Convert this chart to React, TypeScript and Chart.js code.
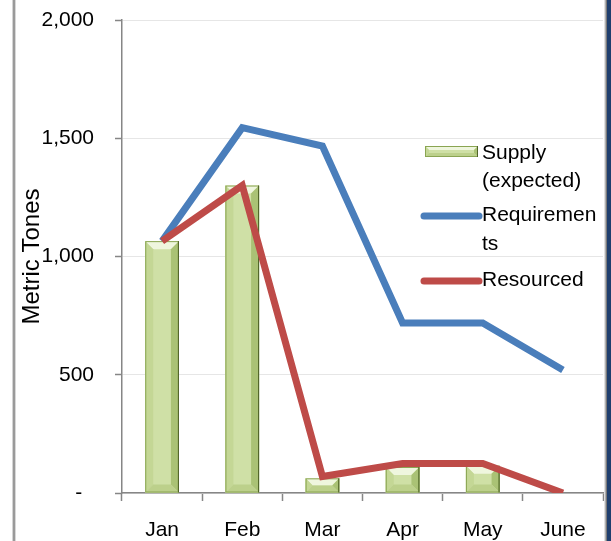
import React, { useEffect, useRef } from 'react';
import { Chart, registerables } from 'chart.js';

Chart.register(...registerables);

const categories = ['Jan', 'Feb', 'Mar', 'Apr', 'May', 'June'];
const supplyExpected: (number | null)[] = [1065, 1300, 62, 110, 115, null];
const requirements = [1065, 1545, 1467, 719, 719, 520];
const resourced = [1065, 1300, 70, 125, 125, 0];
const yMin = 0;
const yMax = 2000;
const yStep = 500;
const seriesNames = ['Supply (expected)', 'Requirements', 'Resourced'];
const legendLines = [['Supply', '(expected)'], ['Requiremen', 'ts'], ['Resourced']];
const yTitle = 'Metric Tones';

const FONT = "'Liberation Sans', Arial, sans-serif";
const BLUE = '#4a7ebb';
const RED = '#be4b48';

function bevelBox(ctx: CanvasRenderingContext2D, l: number, t: number, w: number, h: number, bmax: number) {
  const b = Math.min(bmax, h / 2, w / 2);
  const r = l + w;
  const bt = t + h;
  ctx.save();
  ctx.fillStyle = '#cfe0a6';
  ctx.fillRect(l, t, w, h);
  const poly = (pts: number[][], color: string) => {
    ctx.beginPath();
    ctx.moveTo(pts[0][0], pts[0][1]);
    for (let i = 1; i < pts.length; i++) ctx.lineTo(pts[i][0], pts[i][1]);
    ctx.closePath();
    ctx.fillStyle = color;
    ctx.fill();
  };
  poly([[l, t], [r, t], [r - b, t + b], [l + b, t + b]], '#eff6de');
  poly([[l, t], [l + b, t + b], [l + b, bt - b], [l, bt]], '#c4d795');
  poly([[r, t], [r, bt], [r - b, bt - b], [r - b, t + b]], '#aac275');
  poly([[l, bt], [l + b, bt - b], [r - b, bt - b], [r, bt]], '#bcd08b');
  ctx.lineWidth = 1;
  ctx.strokeStyle = '#8aa552';
  ctx.strokeRect(l + 0.5, t + 0.5, w - 1, h - 1);
  ctx.beginPath();
  ctx.moveTo(r - 0.5, t);
  ctx.lineTo(r - 0.5, bt);
  ctx.strokeStyle = '#4f6228';
  ctx.stroke();
  ctx.restore();
}

const framePlugin = {
  id: 'frame',
  beforeDraw(chart: any) {
    const ctx = chart.ctx;
    ctx.save();
    ctx.fillStyle = '#ffffff';
    ctx.fillRect(0, 0, chart.width, chart.height);
    ctx.restore();
  },
  afterDatasetDraw(chart: any, args: any) {
    if (args.index !== 0) return;
    const ctx = chart.ctx;
    const meta = chart.getDatasetMeta(0);
    meta.data.forEach((el: any) => {
      const p = el.getProps(['x', 'y', 'base', 'width'], true);
      if (p.y == null || isNaN(p.y) || p.base - p.y < 1) return;
      bevelBox(ctx, p.x - p.width / 2, p.y, p.width, p.base - p.y, 8);
    });
  },
  afterDraw(chart: any) {
    const ctx = chart.ctx;
    const H = chart.height;
    const W = chart.width;
    ctx.save();
    ctx.font = `21px ${FONT}`;
    ctx.fillStyle = '#000000';
    ctx.textAlign = 'left';
    ctx.textBaseline = 'middle';
    const lx0 = 424;
    const lx1 = 479;
    const tx = 482;
    bevelBox(ctx, 425, 146, 53, 11, 4);
    ctx.fillText(legendLines[0][0], tx, 153);
    ctx.fillText(legendLines[0][1], tx, 181);
    ctx.lineCap = 'round';
    ctx.lineWidth = 7;
    ctx.strokeStyle = BLUE;
    ctx.beginPath();
    ctx.moveTo(lx0, 216);
    ctx.lineTo(lx1, 216);
    ctx.stroke();
    ctx.fillText(legendLines[1][0], tx, 215);
    ctx.fillText(legendLines[1][1], tx, 244);
    ctx.strokeStyle = RED;
    ctx.beginPath();
    ctx.moveTo(lx0, 281);
    ctx.lineTo(lx1, 281);
    ctx.stroke();
    ctx.fillText(legendLines[2][0], tx, 280);
    ctx.fillStyle = '#d4d4d4';
    ctx.fillRect(12, 0, 1, H);
    ctx.fillStyle = '#9a9a9a';
    ctx.fillRect(13, 0, 2, H);
    ctx.fillStyle = '#d8d8d8';
    ctx.fillRect(15, 0, 1, H);
    ctx.fillStyle = '#e0e0e0';
    ctx.fillRect(604, 0, 1, H);
    ctx.fillStyle = '#b0b0b0';
    ctx.fillRect(605, 0, 1, H);
    ctx.fillStyle = '#7a7a7a';
    ctx.fillRect(606, 0, 1, H);
    ctx.fillStyle = '#1f3f6e';
    ctx.fillRect(607, 0, W - 607, H);
    ctx.restore();
  },
};

export default function App() {
  const canvasRef = useRef<HTMLCanvasElement | null>(null);

  useEffect(() => {
    const canvas = canvasRef.current;
    if (!canvas) return;
    const chart = new Chart(canvas, {
      type: 'bar',
      data: {
        labels: categories,
        datasets: [
          {
            type: 'bar',
            label: seriesNames[0],
            data: supplyExpected,
            backgroundColor: '#cfe0a6',
            borderWidth: 0,
            barPercentage: 0.42,
            categoryPercentage: 1,
            order: 2,
          } as any,
          {
            type: 'line',
            label: seriesNames[1],
            data: requirements,
            borderColor: BLUE,
            backgroundColor: BLUE,
            borderWidth: 7,
            pointRadius: 0,
            tension: 0,
            fill: false,
            order: 1,
          } as any,
          {
            type: 'line',
            label: seriesNames[2],
            data: resourced,
            borderColor: RED,
            backgroundColor: RED,
            borderWidth: 7,
            pointRadius: 0,
            tension: 0,
            fill: false,
            order: 0,
          } as any,
        ],
      },
      options: {
        responsive: true,
        maintainAspectRatio: false,
        animation: false,
        layout: { padding: { top: 20, right: 8, left: 0, bottom: 0 } },
        plugins: {
          legend: { display: false },
          tooltip: { enabled: false },
          title: { display: false },
        },
        scales: {
          x: {
            offset: true,
            grid: {
              offset: true,
              drawOnChartArea: false,
              drawTicks: true,
              tickLength: 8,
              tickColor: '#868686',
              tickWidth: 1.5,
            },
            border: { color: '#868686', width: 1.5 },
            ticks: {
              color: '#000000',
              font: { family: FONT, size: 21 },
              padding: 17,
              maxRotation: 0,
              autoSkip: false,
            },
            afterFit: (s: any) => {
              s.height = 48;
              s.paddingLeft = 0;
              s.paddingRight = 0;
            },
          },
          y: {
            min: yMin,
            max: yMax,
            grid: {
              color: '#e6e6e6',
              lineWidth: 1,
              tickLength: 7,
              tickColor: '#868686',
              tickWidth: 1.5,
            },
            border: { color: '#868686', width: 1.5 },
            ticks: {
              stepSize: yStep,
              color: '#000000',
              font: { family: FONT, size: 21 },
              padding: 21,
              callback: (v: any) => (Number(v) === 0 ? '-  ' : Number(v).toLocaleString('en-US')),
            },
            title: {
              display: true,
              text: yTitle,
              color: '#000000',
              font: { family: FONT, size: 24 },
              padding: { top: 18, bottom: 0 },
            },
            afterFit: (s: any) => {
              s.width = 122;
              s.paddingTop = 0;
              s.paddingBottom = 0;
            },
          },
        },
      },
      plugins: [framePlugin],
    });
    return () => chart.destroy();
  }, []);

  return (
    <div style={{ position: 'fixed', left: 0, top: 0, width: 611, height: 541, background: '#fff' }}>
      <canvas ref={canvasRef} />
    </div>
  );
}
